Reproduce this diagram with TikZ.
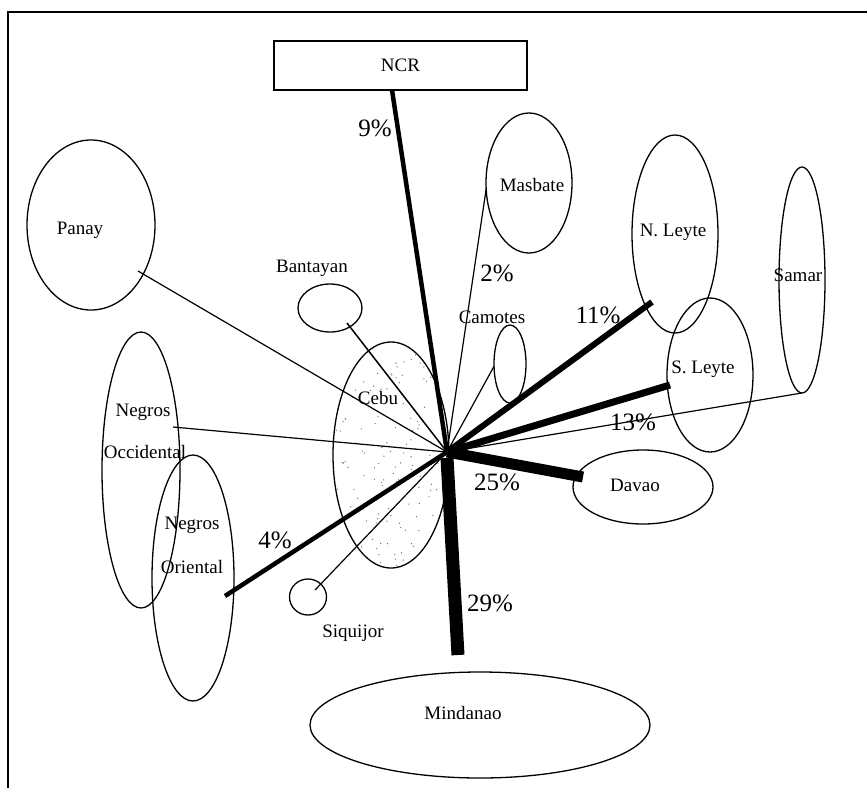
\documentclass[tikz,border=0pt]{standalone}
\usepackage{fontspec}
\setmainfont{Liberation Serif}
\usetikzlibrary{shapes.geometric}
\begin{document}
\begin{tikzpicture}[x=1pt,y=-1pt,
  isl/.style={draw, ellipse, line width=1.3pt, inner sep=0pt, outer sep=0pt},
  boxn/.style={draw, rectangle, line width=1.3pt, inner sep=0pt, outer sep=0pt},
  nm/.style={font=\fontsize{19}{22}\selectfont, inner sep=0pt},
  pc/.style={font=\fontsize{25}{28}\selectfont, inner sep=0pt},
  flowa/.style={line width=1.2pt},
  flowb/.style={line width=#1},
  stip/.style={fill=black!55}]
\useasboundingbox (0,0) rectangle (867,788);
% frame
\draw[line width=1.5pt] (8,788) -- (8,12) -- (867,12);
% islands
\node[isl, minimum width=116pt, minimum height=226pt] (cebu) at (391,455) {};
\begin{scope}
  \clip (391,455) ellipse [x radius=57, y radius=112];
  \pgfmathsetseed{7}
  \foreach \i in {1,...,170} {
    \pgfmathsetmacro\px{391+57*rand}
    \pgfmathsetmacro\py{455+112*rand}
    \fill[stip] (\px,\py) circle [radius=0.7];
  }
\end{scope}
\node[boxn, minimum width=253pt, minimum height=49pt] (ncr) at (400.5,65.5) {};
\node[isl, minimum width=128pt, minimum height=170pt] (panay) at (91,225) {};
\node[isl, minimum width=86pt, minimum height=140pt] (masbate) at (529,183) {};
\node[isl, minimum width=86pt, minimum height=198pt] (nleyte) at (675,234) {};
\node[isl, minimum width=46pt, minimum height=226pt] (samar) at (802,280) {};
\node[isl, minimum width=64pt, minimum height=48pt] (bantayan) at (330,308) {};
\node[isl, minimum width=32pt, minimum height=78pt] (camotes) at (510,364) {};
\node[isl, minimum width=86pt, minimum height=154pt] (sleyte) at (710,375) {};
\node[isl, minimum width=78pt, minimum height=276pt] (negocc) at (141,470) {};
\node[isl, minimum width=82pt, minimum height=246pt] (negor) at (193,578) {};
\node[isl, minimum width=140pt, minimum height=74pt] (davao) at (643,487) {};
\node[isl, minimum width=37pt, minimum height=36pt] (siquijor) at (308,597) {};
\node[isl, minimum width=340pt, minimum height=106pt] (mindanao) at (480,725) {};
% connector ends
\coordinate (hub) at (447,452);
\coordinate (ncr-end) at ([xshift=-8.5pt]ncr.south);
\coordinate (pn-end) at (138,271);
\coordinate (oc-end) at (173,427);
\coordinate (or-end) at (225,596);
\coordinate (bt-end) at (347,323);
\coordinate (sq-end) at (315,590);
\coordinate (mb-end) at (masbate.188);
\coordinate (cm-end) at (camotes.188);
\coordinate (nl-end) at (652,302);
\coordinate (sl-end) at (670,385);
\coordinate (sm-end) at (samar.south);
\coordinate (dv-end) at (583,477);
\coordinate (mn-end) at (458,655);
% connectors
\draw[flowa] (hub) -- (pn-end);
\draw[flowa] (hub) -- (oc-end);
\draw[flowb=1.5pt] (hub) -- (bt-end);
\draw[flowa] (hub) -- (sq-end);
\draw[flowa] (hub) -- (mb-end);
\draw[flowa] (hub) -- (cm-end);
\draw[flowa] (hub) -- (sm-end);
\draw[flowb=4.5pt] (ncr-end) -- (hub);
\draw[flowb=4.5pt] (hub) -- (or-end);
\draw[flowb=6pt] (hub) -- (nl-end);
\draw[flowb=7pt] (hub) -- (sl-end);
\draw[flowb=11pt] (hub) -- (dv-end);
\draw[flowb=13pt] ([yshift=-6pt]hub) -- (mn-end);
% names
\node[nm] (ncr-t) at (ncr) {NCR};
\node[nm] (panay-t) at (80,230) {Panay};
\node[nm] (masbate-t) at (532,185) {Masbate};
\node[nm] (nleyte-t) at (673,232) {N. Leyte};
\node[nm] (samar-t) at (798,275) {Samar};
\node[nm] (bantayan-t) at (312,268) {Bantayan};
\node[nm] (camotes-t) at (492,317) {Camotes};
\node[nm] (cebu-t) at (378,398) {Cebu};
\node[nm] (sleyte-t) at (703,369) {S. Leyte};
\node[nm] (negocc-t1) at (143,412) {Negros};
\node[nm] (negocc-t2) at (145,452) {Occidental};
\node[nm] (negor-t1) at (192,525) {Negros};
\node[nm] (negor-t2) at (192,567) {Oriental};
\node[nm] (davao-t) at (635,485) {Davao};
\node[nm] (siquijor-t) at (353,633) {Siquijor};
\node[nm] (mindanao-t) at (463,713) {Mindanao};
% percentages
\node[pc] (p9) at (375,128) {9\%};
\node[pc] (p2) at (497,273) {2\%};
\node[pc] (p11) at (598,315) {11\%};
\node[pc] (p13) at (633,422) {13\%};
\node[pc] (p25) at (497,482) {25\%};
\node[pc] (p29) at (490,603) {29\%};
\node[pc] (p4) at (275,540) {4\%};
\end{tikzpicture}
\end{document}
